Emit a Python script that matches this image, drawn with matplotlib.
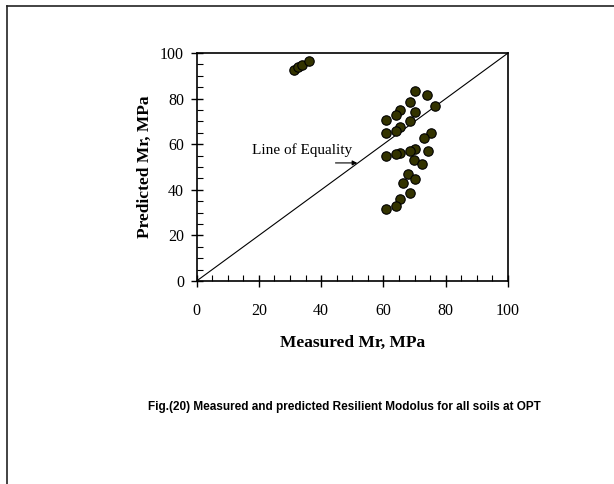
import matplotlib
matplotlib.use("Agg")
import matplotlib.pyplot as plt
from matplotlib.lines import Line2D
from matplotlib.ticker import MultipleLocator

# Measured vs predicted resilient modulus (MPa)
measured = [31.3, 32.6, 33.8, 36.0,
            70.2, 74.0, 76.7, 68.4, 65.4, 70.2, 63.9, 60.9, 68.4, 65.4,
            63.9, 60.9, 75.3, 72.9, 70.2, 68.4, 74.2, 65.4, 63.9, 60.9,
            69.7, 72.4, 68.0, 70.2, 66.4, 68.4, 65.4, 63.9, 60.9]
predicted = [92.7, 93.7, 94.9, 96.3,
             83.4, 81.8, 76.7, 78.6, 75.0, 74.2, 72.7, 70.8, 70.3, 67.6,
             66.0, 64.8, 64.8, 62.9, 58.1, 57.0, 57.0, 56.1, 55.7, 54.9,
             52.9, 51.5, 46.8, 44.7, 42.8, 38.8, 35.8, 32.9, 31.6]
equality = [0, 100]

plt.rcParams['font.family'] = ['Liberation Serif', 'DejaVu Serif']

fig = plt.figure(figsize=(6.14, 4.84), dpi=100)
ax = fig.add_axes([0.3202, 0.4194, 0.5072, 0.471])

ax.plot(equality, equality, color='black', lw=0.8, zorder=2)
ax.scatter(measured, predicted, s=46, facecolor='#333300',
           edgecolor='black', linewidth=0.8, zorder=3, clip_on=False)

ax.set_xlim(0, 100)
ax.set_ylim(0, 100)
ax.xaxis.set_major_locator(MultipleLocator(20))
ax.yaxis.set_major_locator(MultipleLocator(20))
ax.xaxis.set_minor_locator(MultipleLocator(5))
ax.yaxis.set_minor_locator(MultipleLocator(5))
ax.tick_params(which='major', direction='inout', length=8, width=1,
               labelsize=11.5)
ax.tick_params(axis='x', which='major', pad=12)
ax.tick_params(axis='y', which='major', pad=5)
ax.tick_params(which='minor', direction='in', length=4, width=0.8)
ax.tick_params(top=False, right=False, which='both')
for sp in ax.spines.values():
    sp.set_linewidth(1.2)

ax.set_xlabel('Measured Mr, MPa', fontsize=12.5, fontweight='bold', labelpad=11)
ax.set_ylabel('Predicted Mr, MPa', fontsize=12.5, fontweight='bold', labelpad=5)

ax.text(17.7, 57.4, 'Line of Equality', fontsize=11, va='center', ha='left')
ax.annotate('', xy=(51.6, 51.8), xytext=(44.6, 51.8),
            arrowprops=dict(arrowstyle='-|>', color='black', lw=0.8,
                            mutation_scale=7, shrinkA=0, shrinkB=0))

fig.text(344.6 / 614, 1 - 407 / 484,
         'Fig.(20) Measured and predicted Resilient Modolus for all soils at OPT',
         fontsize=8.5, fontweight='bold', family=['Liberation Sans', 'DejaVu Sans'],
         ha='center', va='center')

# page frame (left and top edges)
fig.add_artist(Line2D([7 / 614, 7 / 614], [0, 1 - 6 / 484],
                      transform=fig.transFigure, color='#222222', lw=1.2))
fig.add_artist(Line2D([7 / 614, 1], [1 - 6 / 484, 1 - 6 / 484],
                      transform=fig.transFigure, color='#222222', lw=1.2))

fig.savefig('out.png', dpi=100)
